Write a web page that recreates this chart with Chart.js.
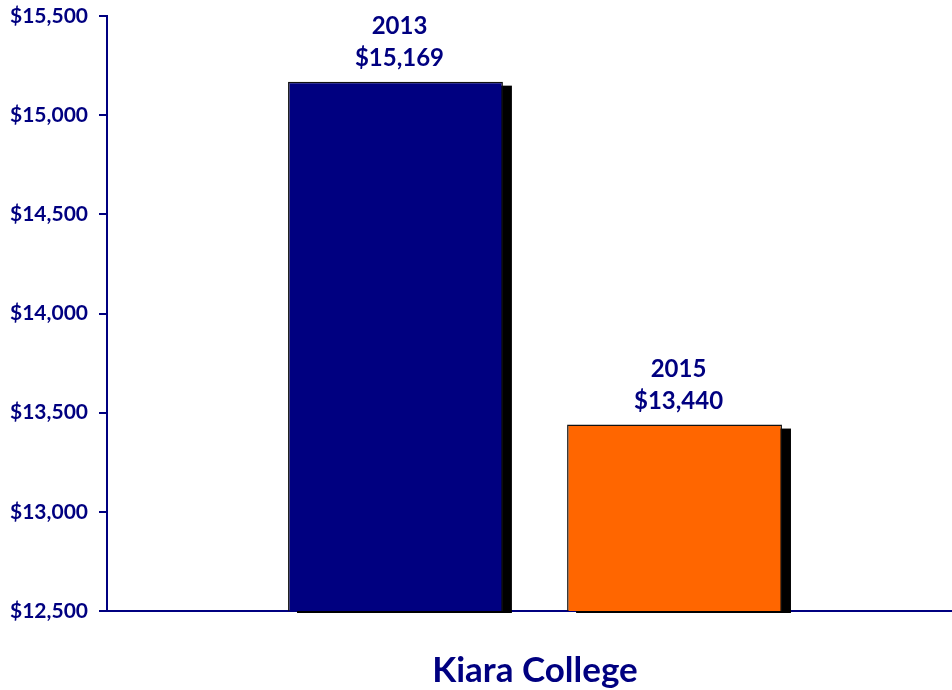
<!DOCTYPE html>
<html>
<head>
<meta charset="utf-8">
<script src="https://cdn.jsdelivr.net/npm/chart.js@4/dist/chart.umd.min.js"></script>
<style>
    html, body { margin: 0; padding: 0; background: #fff; overflow: hidden; }
    #wrap { width: 963px; height: 690px; }
</style>
</head>
<body>
<div id="wrap"><canvas id="chart"></canvas></div>
<script>
// chart data
const categories = ['Kiara College'];
const seriesLabels = ['2013', '2015'];
const values2013 = [15169];
const values2015 = [13440];
const yTicks = [12500, 13000, 13500, 14000, 14500, 15000, 15500];

const NAVY = '#000080';
const FONT = 'Lato, "Open Sans", sans-serif';

const money = v => '$' + v.toLocaleString('en-US');

// black drop shadow behind each bar
const barShadow = {
    id: 'barShadow',
    beforeDatasetsDraw(chart) {
        const ctx = chart.ctx;
        const bottom = chart.chartArea.bottom + 2;
        ctx.save();
        ctx.fillStyle = '#000';
        chart.data.datasets.forEach((ds, i) => {
            chart.getDatasetMeta(i).data.forEach(bar => {
                const w = bar.width;
                ctx.fillRect(bar.x - w / 2 + 9, bar.y + 4, w, bottom - bar.y - 4);
            });
        });
        ctx.restore();
    }
};

// year + value above each bar
const barLabels = {
    id: 'barLabels',
    afterDatasetsDraw(chart) {
        const ctx = chart.ctx;
        ctx.save();
        ctx.fillStyle = NAVY;
        ctx.font = 'bold 24px ' + FONT;
        ctx.textAlign = 'center';
        ctx.textBaseline = 'middle';
        chart.data.datasets.forEach((ds, i) => {
            chart.getDatasetMeta(i).data.forEach((bar, j) => {
                ctx.fillText(ds.label, bar.x + 4, bar.y - 55);
                ctx.fillText(money(ds.data[j]), bar.x + 4, bar.y - 23);
            });
        });
        ctx.restore();
    }
};

new Chart(document.getElementById('chart'), {
    type: 'bar',
    data: {
        labels: categories,
        datasets: [
            {
                label: seriesLabels[0],
                data: values2013,
                backgroundColor: NAVY,
                borderColor: '#111',
                borderWidth: 1.5
            },
            {
                label: seriesLabels[1],
                data: values2015,
                backgroundColor: '#FF6600',
                borderColor: '#111',
                borderWidth: 1.5
            }
        ]
    },
    options: {
        responsive: true,
        maintainAspectRatio: false,
        animation: false,
        categoryPercentage: 0.652,
        barPercentage: 0.77,
        layout: { padding: { top: 16, right: 0, left: 0, bottom: 0 } },
        plugins: {
            legend: { display: false },
            tooltip: { enabled: false }
        },
        scales: {
            x: {
                grid: { display: false, drawTicks: false },
                border: { color: NAVY, width: 2 },
                ticks: {
                    color: NAVY,
                    padding: 39,
                    font: { family: FONT, size: 35, weight: 'bold' }
                },
                afterFit: scale => { scale.height = 79; }
            },
            y: {
                min: 12500,
                max: 15500,
                afterBuildTicks: scale => { scale.ticks = yTicks.map(v => ({ value: v })); },
                grid: { drawOnChartArea: false, color: NAVY, tickLength: 8, lineWidth: 2 },
                border: { color: NAVY, width: 2 },
                ticks: {
                    color: NAVY,
                    padding: 11,
                    font: { family: FONT, size: 21, weight: 'bold', lineHeight: 0.45 },
                    callback: v => money(v)
                },
                afterFit: scale => { scale.width = 107; }
            }
        }
    },
    plugins: [barShadow, barLabels]
});
</script>
</body>
</html>
